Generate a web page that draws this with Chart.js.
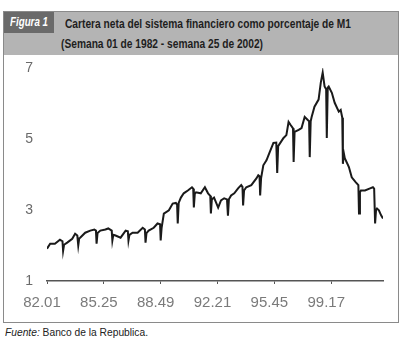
<!DOCTYPE html>
<html>
<head>
<meta charset="utf-8">
<script src="https://cdn.jsdelivr.net/npm/chart.js@4/dist/chart.umd.min.js"></script>
<style>
  body { margin: 0; background: #fff; width: 406px; height: 342px; overflow: hidden; position: relative; font-family: "Liberation Sans", Arial, sans-serif; }
  #frame { position: absolute; left: 3px; top: 11px; width: 396px; height: 312px; border: 1.5px solid #8a8a8a; box-sizing: border-box; }
  #band { position: absolute; left: 3px; top: 11px; width: 396px; height: 44px; background: #b4b4b4; box-sizing: border-box; }
  #tag { position: absolute; left: 4px; top: 12px; width: 50px; height: 21px; background: #6a6a6a; }
  .fit { position: absolute; white-space: nowrap; transform-origin: 0 50%; }
  #tagtxt { left: 10px; top: 15px; color: #fff; font: italic bold 12px "Liberation Sans", Arial, sans-serif; }
  .title { color: #1e1e1e; font: bold 13px "Liberation Sans", Arial, sans-serif; }
  #t1 { left: 65px; top: 16px; }
  #t2 { left: 61px; top: 36px; }
  #src { left: 5px; top: 326px; font: 11px "Liberation Sans", Arial, sans-serif; color: #222; }
  #wrap { position: absolute; left: 0; top: 0; width: 406px; height: 342px; }
</style>
</head>
<body>
<div id="band"></div>
<div id="frame"></div>
<div id="tag"></div>
<div class="fit" id="tagtxt" data-w="38">Figura 1</div>
<div class="fit title" id="t1" data-w="286">Cartera neta del sistema financiero como porcentaje de M1</div>
<div class="fit title" id="t2" data-w="202">(Semana 01 de 1982 - semana 25 de 2002)</div>
<div class="fit" id="src" data-w="143"><i>Fuente:</i> Banco de la Republica.</div>
<div id="wrap"><canvas id="chart" width="406" height="342"></canvas></div>
<script>
// squeeze the header texts to the narrow face of the original
document.querySelectorAll(".fit").forEach(el => {
  const w = el.getBoundingClientRect().width;
  el.style.transform = "scaleX(" + (Number(el.dataset.w) / w) + ")";
});

// weeks counted from semana 01 de 1982
const weeks = [
  0, 10, 25, 41, 49, 51, 54, 64, 80, 89, 96, 99, 102, 105, 121, 137, 150, 155, 157, 160,
  169, 185, 194, 205, 207, 210, 217, 233, 249, 256, 258, 261, 271, 287, 303, 310, 312, 315, 322, 338,
  350, 358, 360, 363, 370, 386, 398, 408, 412, 414, 417, 424, 433, 446, 459, 463, 465, 468, 472, 487,
  500, 510, 517, 519, 522, 529, 542, 551, 561, 570, 573, 576, 583, 593, 605, 615, 619, 621, 624, 631,
  647, 663, 669, 673, 675, 678, 685, 695, 704, 717, 726, 729, 732, 749, 758, 765, 771, 779, 781, 784,
  797, 806, 816, 825, 830, 832, 835, 838, 847, 860, 867, 873, 879, 884, 886, 889, 892, 902, 911, 924,
  930, 935, 937, 940, 943, 956, 965, 978, 986, 988, 991, 994, 1007, 1023, 1032, 1036, 1039, 1042, 1045, 1051,
  1058, 1064
];
const cartera = [
  1.91, 2.05, 2.05, 2.16, 2.12, 1.85, 2.02, 2.08, 2.19, 2.33, 2.28, 2.00, 2.20, 2.22, 2.36, 2.42, 2.45, 2.42, 2.05, 2.35,
  2.42, 2.45, 2.48, 2.42, 2.14, 2.30, 2.28, 2.22, 2.42, 2.40, 2.14, 2.30, 2.36, 2.36, 2.50, 2.45, 2.08, 2.35, 2.42, 2.50,
  2.62, 2.60, 2.14, 2.50, 2.90, 2.99, 3.18, 3.20, 3.15, 2.62, 3.20, 3.35, 3.47, 3.55, 3.64, 3.60, 3.07, 3.45, 3.50, 3.47,
  3.64, 3.47, 3.40, 2.90, 3.30, 3.35, 3.07, 3.27, 3.33, 3.30, 2.84, 3.30, 3.41, 3.47, 3.61, 3.70, 3.65, 3.13, 3.55, 3.64,
  3.70, 3.89, 3.98, 3.95, 3.41, 3.90, 4.26, 4.40, 4.60, 4.89, 4.90, 4.04, 4.80, 5.03, 5.11, 5.48, 5.40, 5.30, 4.35, 5.20,
  5.26, 5.31, 5.62, 5.54, 5.50, 4.49, 5.50, 5.62, 5.91, 6.11, 6.59, 6.87, 6.48, 6.40, 5.03, 6.45, 6.48, 6.30, 6.02, 5.77,
  5.82, 5.60, 4.30, 4.60, 4.46, 4.21, 3.92, 3.78, 3.70, 2.90, 3.50, 3.55, 3.55, 3.61, 3.64, 3.60, 2.62, 3.00, 3.04, 2.99,
  2.85, 2.76
];
const tickLabels = ["82.01", "85.25", "88.49", "92.21", "95.45", "99.17"];
const tickStep = 180;

const points = weeks.map((w, i) => ({ x: w, y: cartera[i] }));

new Chart(document.getElementById("chart"), {
  type: "line",
  data: {
    datasets: [{
      data: points,
      borderColor: "#1a1a1a",
      borderWidth: 2,
      pointRadius: 0,
      tension: 0,
      fill: false
    }]
  },
  options: {
    responsive: false,
    animation: false,
    events: [],
    layout: { padding: { top: 68, right: 23, bottom: 31, left: 0 } },
    plugins: { legend: { display: false }, tooltip: { enabled: false } },
    scales: {
      x: {
        type: "linear",
        min: 0,
        max: 1064,
        afterBuildTicks: axis => {
          axis.ticks = tickLabels.map((_, i) => ({ value: i * tickStep }));
        },
        afterFit: axis => { axis.height = 30; },
        border: { display: true, color: "#555", width: 1.5 },
        grid: { display: true, drawOnChartArea: false, color: "#555", tickLength: 3 },
        ticks: {
          autoSkip: false,
          maxRotation: 0,
          padding: 10,
          labelOffset: -5,
          color: "#7a7a7a",
          font: { family: "Liberation Sans", size: 15 },
          callback: v => tickLabels[Math.round(v / tickStep)]
        }
      },
      y: {
        min: 1,
        max: 7,
        afterFit: axis => { axis.width = 47; },
        border: { display: false },
        grid: { display: false, drawTicks: false },
        ticks: {
          stepSize: 2,
          padding: 14,
          color: "#6a6a6a",
          font: { family: "Liberation Sans", size: 14 }
        }
      }
    }
  }
});
</script>
</body>
</html>
